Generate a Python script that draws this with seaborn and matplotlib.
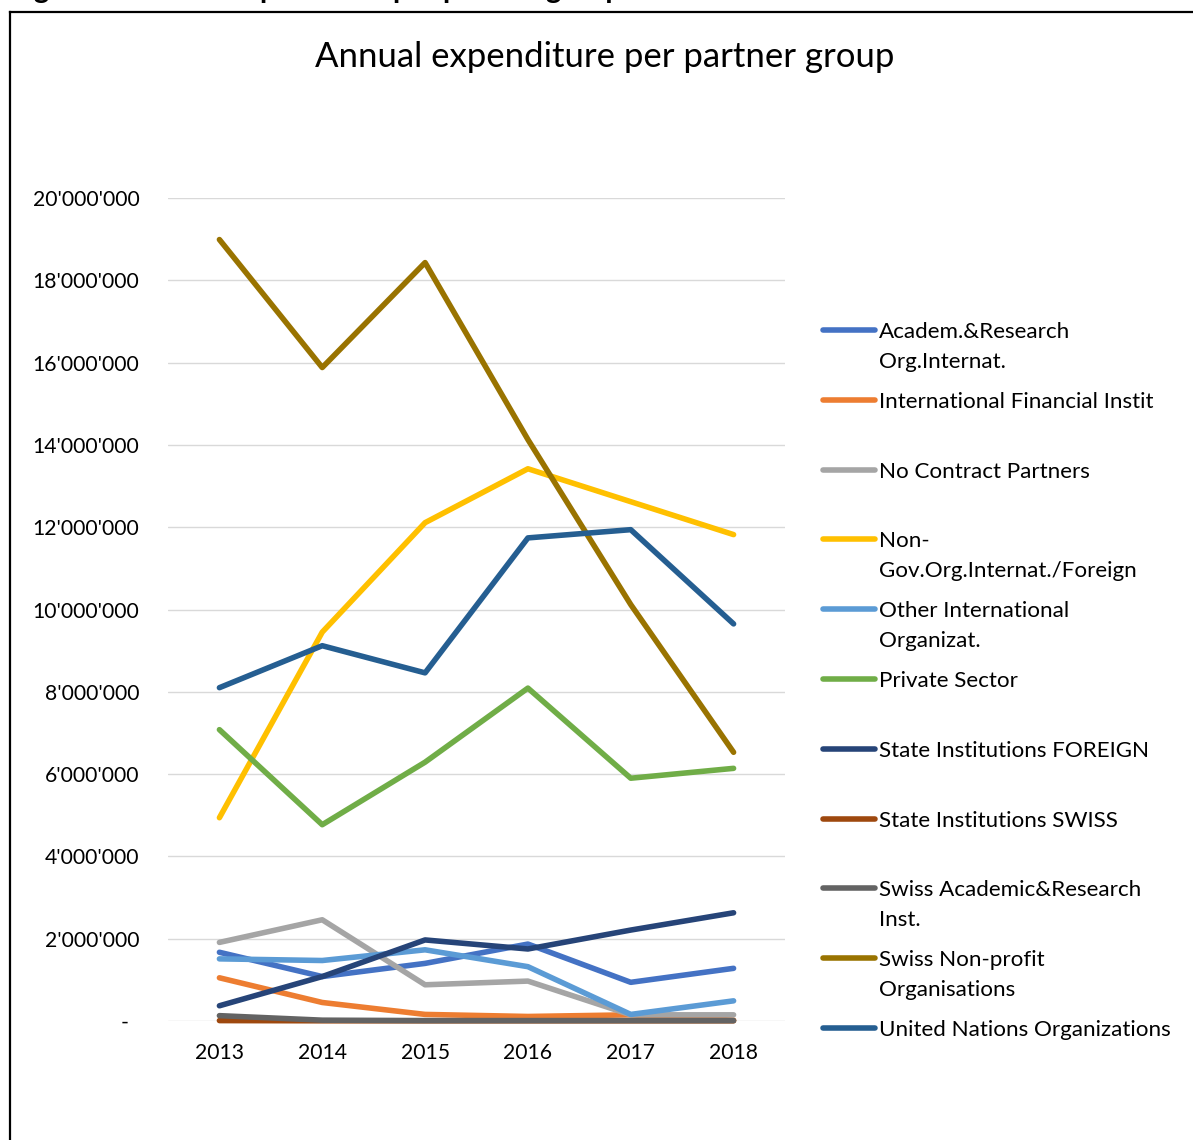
import numpy as np
import pandas as pd
import matplotlib
matplotlib.use("Agg")
import matplotlib.pyplot as plt
import matplotlib.transforms as mtransforms
from matplotlib.lines import Line2D
from matplotlib.ticker import FuncFormatter, MultipleLocator
import seaborn as sns

# ---- data -------------------------------------------------------------
years = [2013, 2014, 2015, 2016, 2017, 2018]

groups = [
    "Academ.&Research Org.Internat.",
    "International Financial Instit",
    "No Contract Partners",
    "Non-Gov.Org.Internat./Foreign",
    "Other International Organizat.",
    "Private Sector",
    "State Institutions FOREIGN",
    "State Institutions SWISS",
    "Swiss Academic&Research Inst.",
    "Swiss Non-profit Organisations",
    "United Nations Organizations",
]

legend_labels = [
    ["Academ.&Research", "Org.Internat."],
    ["International Financial Instit"],
    ["No Contract Partners"],
    ["Non-", "Gov.Org.Internat./Foreign"],
    ["Other International", "Organizat."],
    ["Private Sector"],
    ["State Institutions FOREIGN"],
    ["State Institutions SWISS"],
    ["Swiss Academic&Research", "Inst."],
    ["Swiss Non-profit", "Organisations"],
    ["United Nations Organizations"],
]

colors = [
    "#4472C4", "#ED7D31", "#A5A5A5", "#FFC000", "#5B9BD5", "#70AD47",
    "#264478", "#9E480E", "#636363", "#997300", "#255E91",
]

academ_research_intl = [1670000, 1080000, 1400000, 1870000, 940000, 1280000]
intl_financial = [1050000, 450000, 160000, 110000, 150000, 20000]
no_contract = [1910000, 2460000, 880000, 970000, 150000, 150000]
ngo_intl_foreign = [4940000, 9450000, 12110000, 13420000, 12620000, 11820000]
other_intl_org = [1510000, 1470000, 1730000, 1320000, 160000, 490000]
private_sector = [7080000, 4770000, 6290000, 8090000, 5900000, 6140000]
state_foreign = [370000, 1080000, 1970000, 1750000, 2210000, 2630000]
state_swiss = [10000, 5000, 5000, 5000, 5000, 5000]
swiss_academic = [130000, 20000, 10000, 10000, 10000, 10000]
swiss_nonprofit = [18990000, 15880000, 18430000, 14130000, 10120000, 6530000]
un_orgs = [8100000, 9120000, 8460000, 11740000, 11940000, 9650000]

series = [
    academ_research_intl, intl_financial, no_contract, ngo_intl_foreign,
    other_intl_org, private_sector, state_foreign, state_swiss,
    swiss_academic, swiss_nonprofit, un_orgs,
]

df = pd.DataFrame(
    [(g, y, v) for g, vals in zip(groups, series) for y, v in zip(years, vals)],
    columns=["group", "year", "value"],
)

# ---- figure ------------------------------------------------------------
sns.set_theme(style="white")
plt.rcParams["font.family"] = ["Lato", "DejaVu Sans"]

W, H = 1193, 1140
fig = plt.figure(figsize=(W / 100, H / 100), dpi=100)


def fx(px):
    return px / W


def fy(py):
    return 1 - py / H


ax = fig.add_axes([fx(168), fy(1021), fx(785) - fx(168), fy(198) - fy(1021)])

lw = 4.0
sns.lineplot(
    data=df, x="year", y="value", hue="group", hue_order=groups,
    palette=colors, linewidth=lw, legend=False, errorbar=None,
    sort=False, ax=ax,
)
for ln in ax.lines:
    ln.set_solid_capstyle("round")
    ln.set_solid_joinstyle("round")
    ln.set_clip_on(False)

ax.set_xlim(2012.5, 2018.5)
ax.set_ylim(0, 20000000)
ax.set_xticks(years)
ax.set_xticklabels([str(y) for y in years])
ax.yaxis.set_major_locator(MultipleLocator(2000000))


def fmt(v, pos):
    if abs(v) < 1:
        return "-"
    return f"{int(round(v)):,}".replace(",", "'")


ax.yaxis.set_major_formatter(FuncFormatter(fmt))
ax.set_xlabel("")
ax.set_ylabel("")
for s in ax.spines.values():
    s.set_visible(False)
ax.grid(axis="y", color="#D9D9D9", linewidth=1.0)
ax.grid(axis="x", visible=False)
ax.set_axisbelow(True)
ax.tick_params(axis="both", length=0, labelsize=15.2, colors="#000000")
ax.tick_params(axis="y", pad=20.5)
ax.tick_params(axis="x", pad=16)

# zero label sits a little left of the other value labels
fig.canvas.draw()
for lab in ax.get_yticklabels():
    if lab.get_text() == "-":
        lab.set_transform(lab.get_transform() + mtransforms.ScaledTranslation(
            -11 / 100, 0, fig.dpi_scale_trans))

# title
fig.text(fx(605), fy(67), "Annual expenditure per partner group",
         ha="center", va="baseline", fontsize=25, color="#000000")

# page heading above the chart frame
fig.text(fx(10), fy(-2), "Figure 4: Annual expenditure per partner group",
         ha="left", va="baseline", fontsize=21, fontweight="bold",
         color="#000000")

# chart frame
fig.add_artist(Line2D([fx(9.5), fx(9.5)], [fy(12), fy(1200)], color="black",
                      lw=1.6, transform=fig.transFigure, solid_capstyle="projecting"))
fig.add_artist(Line2D([fx(9.5), fx(1250)], [fy(12), fy(12)], color="black",
                      lw=1.6, transform=fig.transFigure, solid_capstyle="projecting"))

# legend: one line handle per series, label lines stacked below the first
leg_top, leg_step, line_gap = 330, 69.8, 30
for i, (lines, c) in enumerate(zip(legend_labels, colors)):
    yc = leg_top + i * leg_step
    fig.add_artist(Line2D([fx(823), fx(875)], [fy(yc), fy(yc)], color=c, lw=lw,
                          solid_capstyle="round", transform=fig.transFigure))
    for k, txt in enumerate(lines):
        fig.text(fx(879), fy(yc + k * line_gap), txt, ha="left",
                 va="center_baseline", fontsize=16.1, color="#000000")

fig.savefig("out.png", dpi=100)
